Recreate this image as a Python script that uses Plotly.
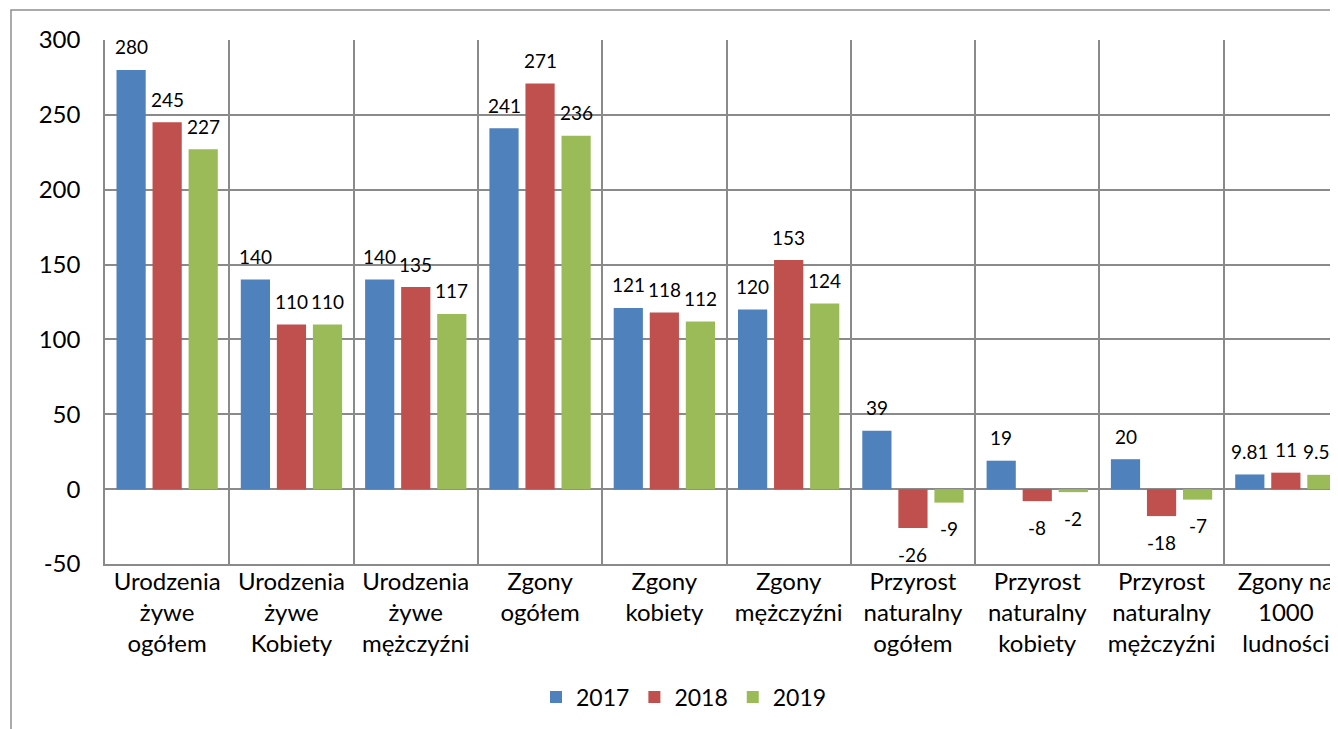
import plotly.graph_objects as go

categories = [
    "Urodzenia<br>żywe<br>ogółem",
    "Urodzenia<br>żywe<br>Kobiety",
    "Urodzenia<br>żywe<br>mężczyźni",
    "Zgony<br>ogółem",
    "Zgony<br>kobiety",
    "Zgony<br>mężczyźni",
    "Przyrost<br>naturalny<br>ogółem",
    "Przyrost<br>naturalny<br>kobiety",
    "Przyrost<br>naturalny<br>mężczyźni",
    "Zgony na<br>1000<br>ludności",
]
v2017 = [280, 140, 140, 241, 121, 120, 39, 19, 20, 9.81]
v2018 = [245, 110, 135, 271, 118, 153, -26, -8, -18, 11]
v2019 = [227, 110, 117, 236, 112, 124, -9, -2, -7, 9.57]
series_names = ["2017", "2018", "2019"]
colors = ["#4F81BD", "#C0504D", "#9BBB59"]
y_ticks = [-50, 0, 50, 100, 150, 200, 250, 300]

FONT = "Lato"
GRID = "#8a8a8a"

# page body has an 8px margin: compensate so the plot lands where the reference has it
W, H = 1338, 729
L, T, B = 97, 32, 173
pw, ph = W - L, H - T - B
cat_px = 124.3
x_range = [-0.5, -0.5 + pw / cat_px]
bargap, bargroupgap = 0.13, 0.19
slot_px = cat_px * (1 - bargap) / 3

fig = go.Figure()
annotations = []
for i, (name, vals, col) in enumerate(zip(series_names, [v2017, v2018, v2019], colors)):
    fig.add_trace(go.Bar(
        x=categories, y=vals, name=name,
        marker=dict(color=col, line=dict(width=0)),
    ))
    for c, v in zip(categories, vals):
        annotations.append(dict(
            x=c, y=v, xref="x", yref="y", text=f"{v:g}", showarrow=False,
            xshift=(i - 1) * slot_px, yshift=23 if v >= 0 else -26,
            xanchor="center", yanchor="middle",
            font=dict(family=FONT, size=19, color="#000"),
        ))

fig.update_layout(
    width=W, height=H,
    margin=dict(l=L, r=0, t=T, b=B),
    paper_bgcolor="white", plot_bgcolor="white",
    barmode="group", bargap=bargap, bargroupgap=bargroupgap,
    font=dict(family=FONT, size=23, color="#000"),
    showlegend=True,
    legend=dict(orientation="h", x=(676 - L) / pw, xanchor="center", y=(556 - 689) / ph,
                yanchor="middle", font=dict(family=FONT, size=23),
                itemwidth=30, traceorder="normal"),
    xaxis=dict(
        type="category", range=x_range, tickson="boundaries",
        showgrid=True, gridcolor=GRID, gridwidth=1.5,
        showline=True, linecolor=GRID, linewidth=1.5,
        ticks="", ticklabelstandoff=-5, tickfont=dict(family=FONT, size=24),
    ),
    yaxis=dict(
        range=[-50, 300], tickvals=y_ticks, ticktext=[str(t) for t in y_ticks],
        showgrid=True, gridcolor=GRID, gridwidth=1.5,
        zeroline=True, zerolinecolor=GRID, zerolinewidth=1.5,
        showline=True, linecolor=GRID, linewidth=1.5,
        ticks="", ticklabelstandoff=18, tickfont=dict(family=FONT, size=24),
    ),
    annotations=annotations,
    shapes=[dict(type="rect", xref="paper", yref="paper",
                 x0=(3 - L) / pw, x1=1.2, y0=-1.0, y1=1 + 30 / ph,
                 line=dict(color="#8f8f8f", width=1.5), fillcolor="rgba(0,0,0,0)",
                 layer="below")],
)

fig.write_html("out.html")
